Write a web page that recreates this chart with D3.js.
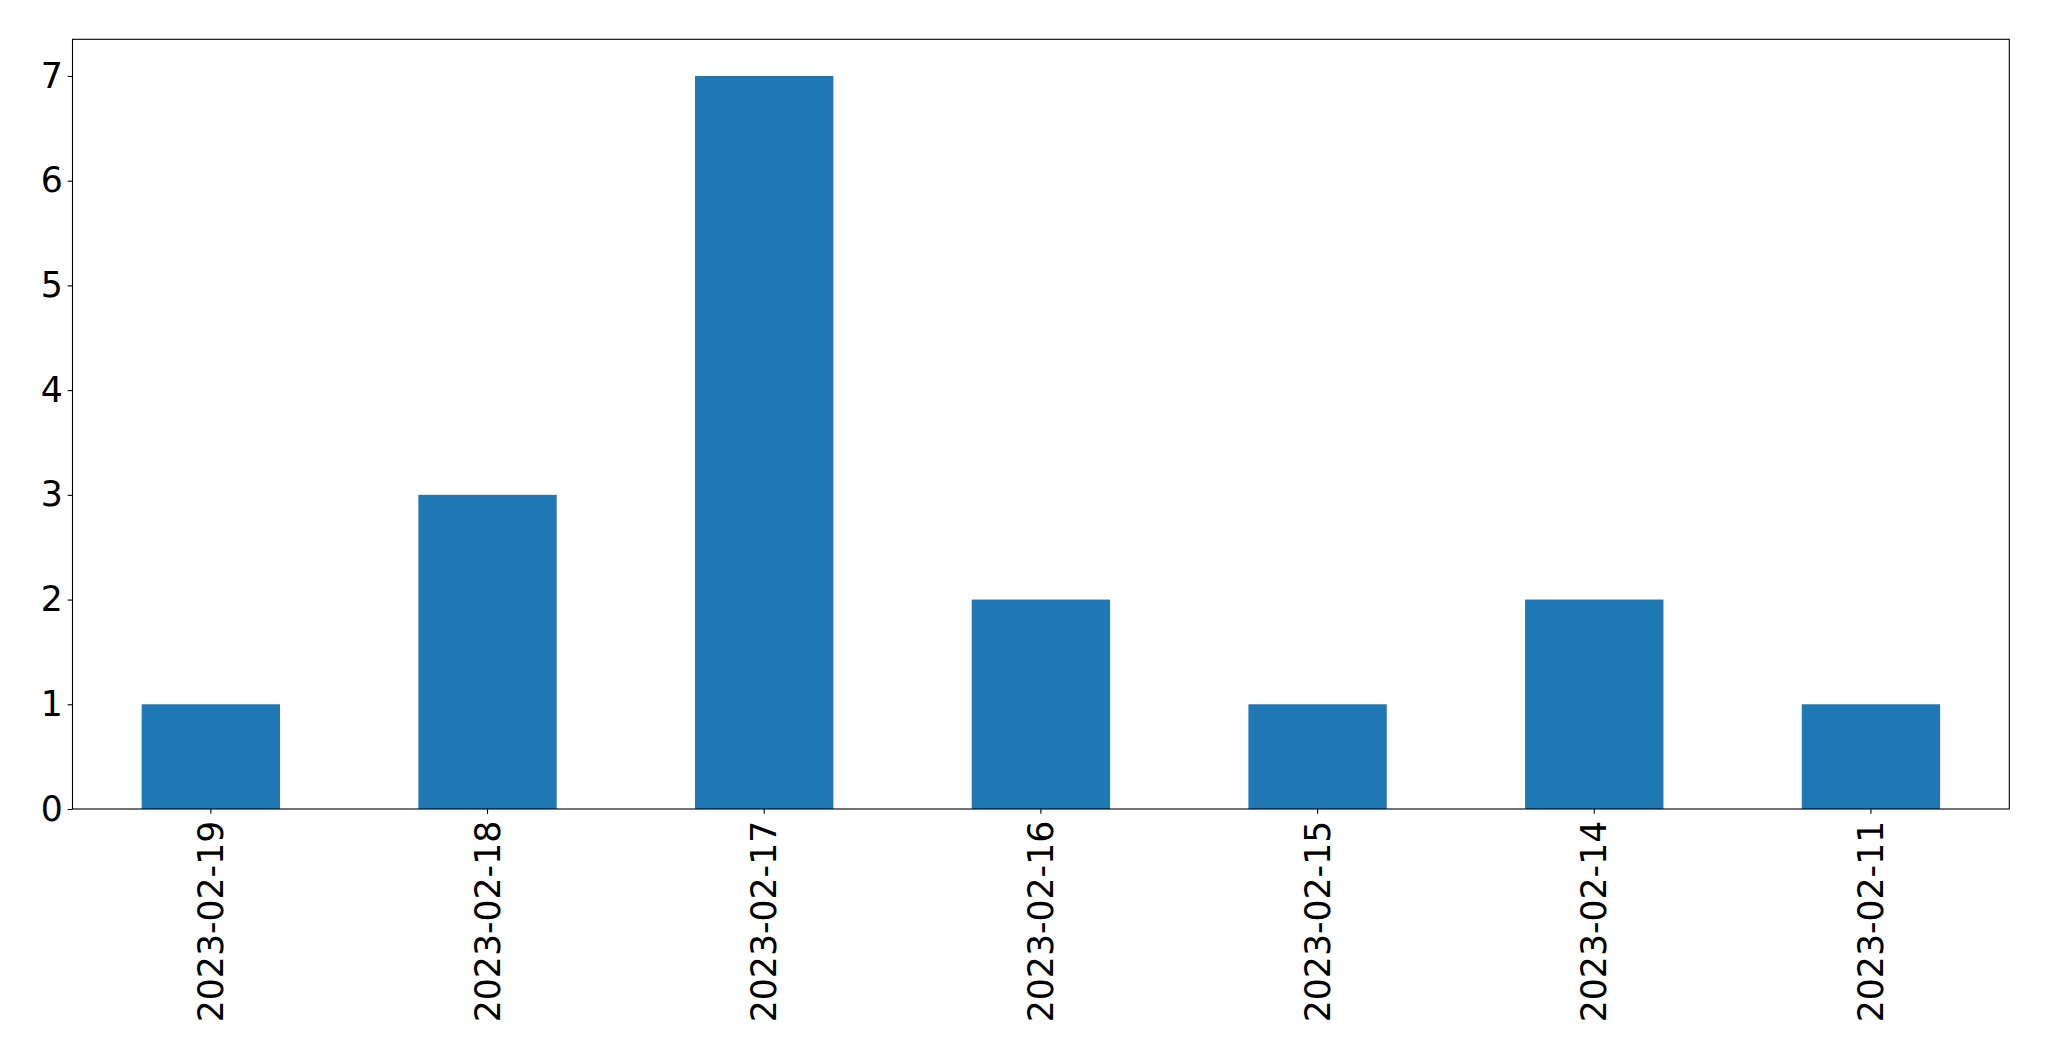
<!DOCTYPE html>
<html><head><meta charset="utf-8">
<script src="https://cdn.jsdelivr.net/npm/d3@7"></script>
<style>body{margin:0;background:#fff}svg{display:block}</style>
</head><body>
<script>
const categories = ["2023-02-19","2023-02-18","2023-02-17","2023-02-16","2023-02-15","2023-02-14","2023-02-11"];
const values = [1,3,7,2,1,2,1];
const yTicks = [0,1,2,3,4,5,6,7];

const W = 2049, H = 1061;
const m = {left:72.5, right:2049-2009.3, top:39.3, bottom:1061-809};
const fs = 34.7;
const svg = d3.select("body").append("svg").attr("width",W).attr("height",H);
const iw = W - m.left - m.right, ih = H - m.top - m.bottom;
const g = svg.append("g").attr("transform",`translate(${m.left},${m.top})`);

const x = d3.scaleBand().domain(categories).range([0,iw]).paddingInner(0.5).paddingOuter(0.25);
const y = d3.scaleLinear().domain([0,7.35]).range([ih,0]);

g.selectAll("rect.bar").data(values).join("rect").attr("class","bar")
  .attr("x",(d,i)=>x(categories[i])).attr("width",x.bandwidth())
  .attr("y",d=>y(d)).attr("height",d=>y(0)-y(d)).attr("fill","#1f77b4");

const ya = g.append("g").call(d3.axisLeft(y).tickValues(yTicks).tickFormat(d3.format("d")).tickSize(4.86).tickPadding(4.86));
const xa = g.append("g").attr("transform",`translate(0,${ih})`).call(d3.axisBottom(x).tickSize(4.86).tickPadding(0));
[ya,xa].forEach(a=>{a.select(".domain").remove();a.selectAll("line").attr("stroke","#000").attr("stroke-width",1.1);
  a.selectAll("text").attr("font-family","DejaVu Sans").attr("font-size",fs).attr("fill","#000");});
xa.selectAll("text").attr("transform","rotate(-90)").attr("text-anchor","end")
  .attr("x",-(4.86+4.86+2)).attr("y",0).attr("dy","0.35em");

g.append("rect").attr("x",0).attr("y",0).attr("width",iw).attr("height",ih)
  .attr("fill","none").attr("stroke","#000").attr("stroke-width",1.1);
</script>
</body></html>
